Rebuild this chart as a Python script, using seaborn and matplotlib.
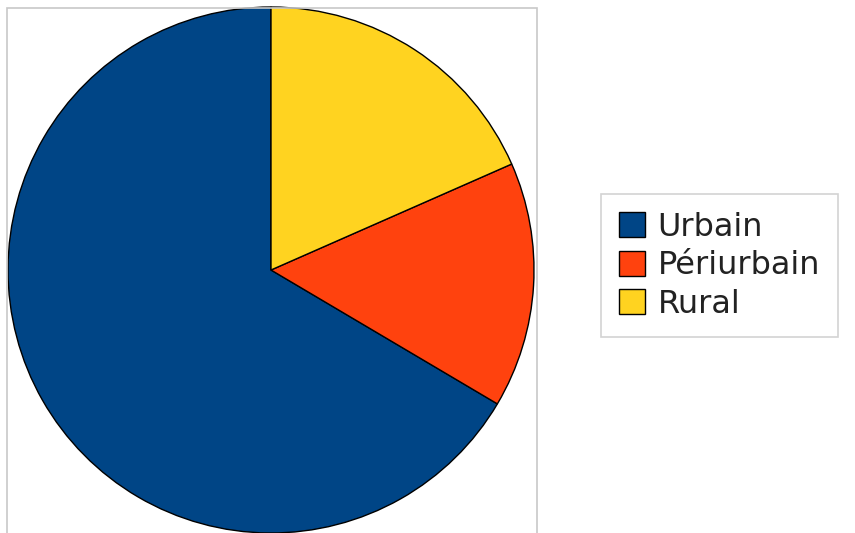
import matplotlib
matplotlib.use("Agg")
import matplotlib.pyplot as plt
import seaborn as sns
from matplotlib.patches import Rectangle

sns.set_theme(style="white")
plt.rcParams['font.family'] = ['DejaVu Sans']

labels = ['Urbain', 'Périurbain', 'Rural']
shares = [66.5, 15.1, 18.4]
colors = sns.color_palette(['#004586', '#ff420e', '#ffd320'])

W, H = 855, 533
fig = plt.figure(figsize=(W / 100, H / 100), dpi=100)

# gray frame round the pie (runs off the bottom of the picture)
fig.patches.append(Rectangle((7 / W, -0.05), 530 / W, (H - 8) / H + 0.05,
                             transform=fig.transFigure, fill=False,
                             edgecolor='#c8c8c8', linewidth=1.2))

ax = fig.add_axes([8 / W, 0 / H, 526 / W, 526 / H])
wedges, _ = ax.pie(shares, colors=colors, startangle=90, counterclock=True,
                   wedgeprops=dict(edgecolor='black', linewidth=1))
ax.set_xlim(-1, 1)
ax.set_ylim(-1, 1)
ax.set_aspect('auto')
ax.axis('off')

leg = fig.legend(wedges, labels, loc='upper left',
                 bbox_to_anchor=(601 / W, (H - 194) / H),
                 fontsize=23, frameon=True, fancybox=False,
                 edgecolor='#c8c8c8', handlelength=0.82, handleheight=0.82,
                 handletextpad=0.4, labelspacing=0.24, borderpad=0.55,
                 borderaxespad=0)
leg.get_frame().set_linewidth(1.2)
for t in leg.get_texts():
    t.set_color('#222222')

fig.savefig('out.png', dpi=100)
